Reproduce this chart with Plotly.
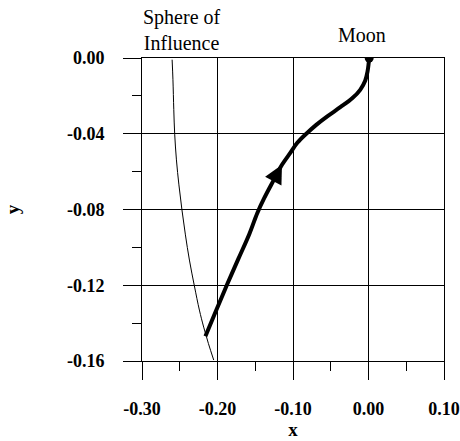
import plotly.graph_objects as go

# Transfer trajectory inside the lunar sphere of influence (Moon-centred frame)
traj_x = [-0.2160, -0.2021, -0.1876, -0.1724, -0.1578, -0.1472, -0.1380,
          -0.1261, -0.1146, -0.1036, -0.0943, -0.0824, -0.0692, -0.0546,
          -0.0374, -0.0216, -0.0110, -0.0044, -0.0011, 0.0003, 0.0009]
traj_y = [-0.1469, -0.1336, -0.1199, -0.1061, -0.0929, -0.0818, -0.0739,
          -0.0649, -0.0564, -0.0501, -0.0448, -0.0400, -0.0353, -0.0308,
          -0.0260, -0.0213, -0.0168, -0.0120, -0.0067, -0.0025, -0.0006]
arrow_tip = 8  # index of the direction arrow along the trajectory

# Boundary of the sphere of influence
soi_x = [-0.2601, -0.2590, -0.2579, -0.2567, -0.2544, -0.2511, -0.2471,
         -0.2425, -0.2372, -0.2306, -0.2240, -0.2183, -0.2121, -0.2050]
soi_y = [-0.0009, -0.0115, -0.0273, -0.0402, -0.0538, -0.0670, -0.0802,
         -0.0934, -0.1067, -0.1204, -0.1331, -0.1421, -0.1507, -0.1595]

moon_x = [0.0009]
moon_y = [0.0]

x_ticks = [-0.30, -0.20, -0.10, 0.00, 0.10]
x_tick_labels = ["-0.30", "-0.20", "-0.10", "0.00", "0.10"]
y_ticks = [0.00, -0.04, -0.08, -0.12, -0.16]
y_tick_labels = ["0.00", "-0.04", "-0.08", "-0.12", "-0.16"]

SERIF = "Liberation Serif, Times New Roman, DejaVu Serif, serif"

fig = go.Figure()
fig.add_trace(go.Scatter(x=soi_x, y=soi_y, mode="lines",
                         line=dict(color="black", width=1, shape="spline"),
                         hoverinfo="skip"))
fig.add_trace(go.Scatter(x=traj_x, y=traj_y, mode="lines",
                         line=dict(color="black", width=4, shape="spline"),
                         hoverinfo="skip"))
fig.add_trace(go.Scatter(x=moon_x, y=moon_y, mode="markers",
                         marker=dict(color="black", size=9), hoverinfo="skip"))

# Direction arrow on the trajectory
fig.add_annotation(x=traj_x[arrow_tip], y=traj_y[arrow_tip],
                   ax=traj_x[arrow_tip - 2], ay=traj_y[arrow_tip - 2],
                   xref="x", yref="y", axref="x", ayref="y",
                   text="", showarrow=True, arrowhead=2,
                   arrowwidth=2, arrowsize=1.85, arrowcolor="black")

fig.add_annotation(x=moon_x[0], y=moon_y[0], xref="x", yref="y",
                   text="Moon", showarrow=False, xanchor="center",
                   yanchor="bottom", xshift=-7, yshift=10,
                   font=dict(family=SERIF, size=20, color="black"))
fig.add_annotation(x=soi_x[0], y=0.0, xref="x", yref="y",
                   text="Sphere of<br>Influence", showarrow=False,
                   xanchor="center", yanchor="bottom", xshift=10, yshift=2,
                   font=dict(family=SERIF, size=20, color="black"))

axis_common = dict(
    showline=True, linecolor="black", linewidth=1, mirror=True,
    showgrid=True, gridcolor="black", gridwidth=1, zeroline=False,
    ticks="outside", ticklen=18, tickcolor="black", tickwidth=1,
    tickfont=dict(family=SERIF, size=18, color="black", weight="bold"),
)

fig.update_xaxes(range=[-0.30, 0.10], tickvals=x_ticks, ticktext=x_tick_labels,
                 minor=dict(dtick=0.05, tick0=0, ticks="outside", ticklen=9,
                            tickcolor="black", showgrid=False),
                 title=dict(text="x", standoff=4,
                            font=dict(family=SERIF, size=19, color="black",
                                      weight="bold")),
                 ticklabelstandoff=13,
                 **axis_common)
fig.update_yaxes(range=[-0.16, 0.00], tickvals=y_ticks, ticktext=y_tick_labels,
                 minor=dict(dtick=0.02, tick0=0, ticks="outside", ticklen=9,
                            tickcolor="black", showgrid=False),
                 title=dict(text="y", standoff=42,
                            font=dict(family=SERIF, size=19, color="black",
                                      weight="bold")),
                 ticklabelstandoff=15,
                 **axis_common)

fig.update_layout(width=460, height=441, showlegend=False,
                  margin=dict(l=142, r=16, t=58, b=80, autoexpand=False),
                  paper_bgcolor="white", plot_bgcolor="white")

fig.write_html("out.html")
